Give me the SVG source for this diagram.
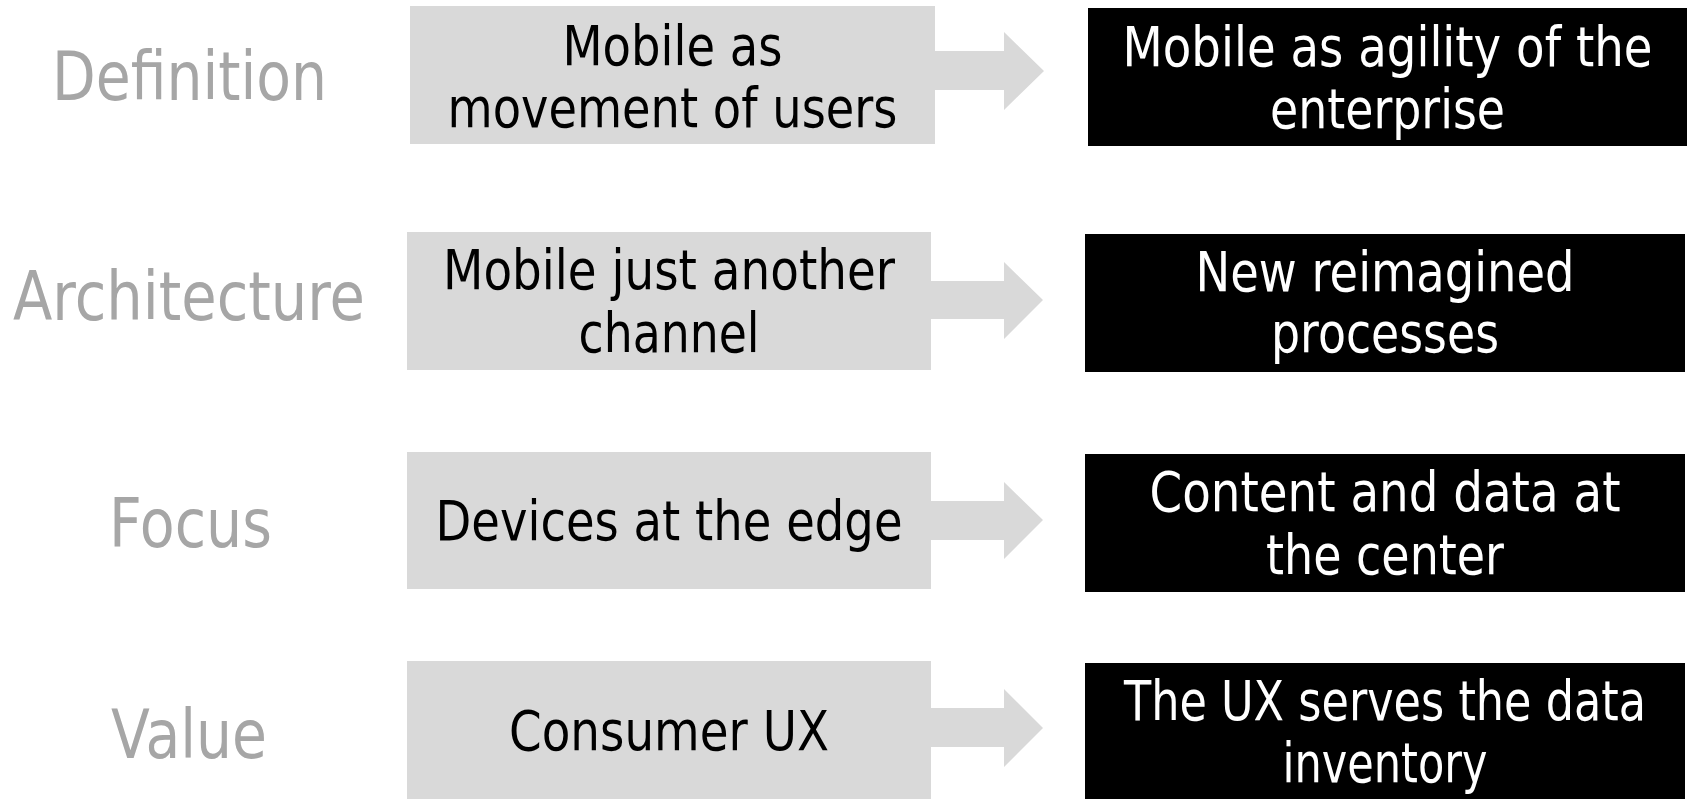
<svg xmlns="http://www.w3.org/2000/svg" width="1689" height="799" viewBox="0 0 1689 799">
<style>
.lbl{font-family:"DejaVu Sans","Verdana",sans-serif;font-size:67px;fill:#a6a6a6;text-anchor:middle}
.g{fill:#d9d9d9}
.b{fill:#000000}
.tg{font-family:"DejaVu Sans","Verdana",sans-serif;font-size:56px;fill:#000000;text-anchor:middle}
.tb{font-family:"DejaVu Sans","Verdana",sans-serif;font-size:56px;fill:#ffffff;text-anchor:middle}
.arr{fill:#d9d9d9}
</style>
<rect width="1689" height="799" fill="#ffffff"/>
<g id="labels">
<text class="lbl" x="189.5" y="100" textLength="275" lengthAdjust="spacingAndGlyphs">Definition</text>
<text class="lbl" x="189" y="320" textLength="352" lengthAdjust="spacingAndGlyphs">Architecture</text>
<text class="lbl" x="190.5" y="547" textLength="163" lengthAdjust="spacingAndGlyphs">Focus</text>
<text class="lbl" x="189" y="758" textLength="156" lengthAdjust="spacingAndGlyphs">Value</text>
</g>
<g id="connectors">
<polygon class="arr" points="935,51 1004,51 1004,32 1044,71 1004,110 1004,90 935,90"/>
<polygon class="arr" points="931,281 1004,281 1004,262 1043,300 1004,339 1004,319 931,319"/>
<polygon class="arr" points="931,501 1004,501 1004,482 1043,520 1004,559 1004,540 931,540"/>
<polygon class="arr" points="931,708 1004,708 1004,689 1043,728 1004,767 1004,747 931,747"/>
</g>
<g id="old-definition">
<rect class="g" x="410" y="6" width="525" height="138"/>
<text class="tg" x="672.5" y="65" textLength="220" lengthAdjust="spacingAndGlyphs">Mobile as</text>
<text class="tg" x="672.5" y="127" textLength="450" lengthAdjust="spacingAndGlyphs">movement of users</text>
</g>
<g id="new-definition">
<rect class="b" x="1088" y="8" width="599" height="138"/>
<text class="tb" x="1387.5" y="66" textLength="530" lengthAdjust="spacingAndGlyphs">Mobile as agility of the</text>
<text class="tb" x="1387.5" y="128" textLength="235" lengthAdjust="spacingAndGlyphs">enterprise</text>
</g>
<g id="old-architecture">
<rect class="g" x="407" y="232" width="524" height="138"/>
<text class="tg" x="669" y="289" textLength="452" lengthAdjust="spacingAndGlyphs">Mobile just another</text>
<text class="tg" x="669" y="352" textLength="181" lengthAdjust="spacingAndGlyphs">channel</text>
</g>
<g id="new-architecture">
<rect class="b" x="1085" y="234" width="600" height="138"/>
<text class="tb" x="1385" y="291" textLength="379" lengthAdjust="spacingAndGlyphs">New reimagined</text>
<text class="tb" x="1385" y="352" textLength="228" lengthAdjust="spacingAndGlyphs">processes</text>
</g>
<g id="old-focus">
<rect class="g" x="407" y="452" width="524" height="137"/>
<text class="tg" x="669" y="540" textLength="467" lengthAdjust="spacingAndGlyphs">Devices at the edge</text>
</g>
<g id="new-focus">
<rect class="b" x="1085" y="454" width="600" height="138"/>
<text class="tb" x="1385" y="511" textLength="471" lengthAdjust="spacingAndGlyphs">Content and data at</text>
<text class="tb" x="1385" y="574" textLength="238" lengthAdjust="spacingAndGlyphs">the center</text>
</g>
<g id="old-value">
<rect class="g" x="407" y="661" width="524" height="138"/>
<text class="tg" x="669" y="750" textLength="320" lengthAdjust="spacingAndGlyphs">Consumer UX</text>
</g>
<g id="new-value">
<rect class="b" x="1085" y="663" width="600" height="136"/>
<text class="tb" x="1385" y="720" textLength="522" lengthAdjust="spacingAndGlyphs">The UX serves the data</text>
<text class="tb" x="1385" y="782" textLength="205" lengthAdjust="spacingAndGlyphs">inventory</text>
</g>
</svg>
